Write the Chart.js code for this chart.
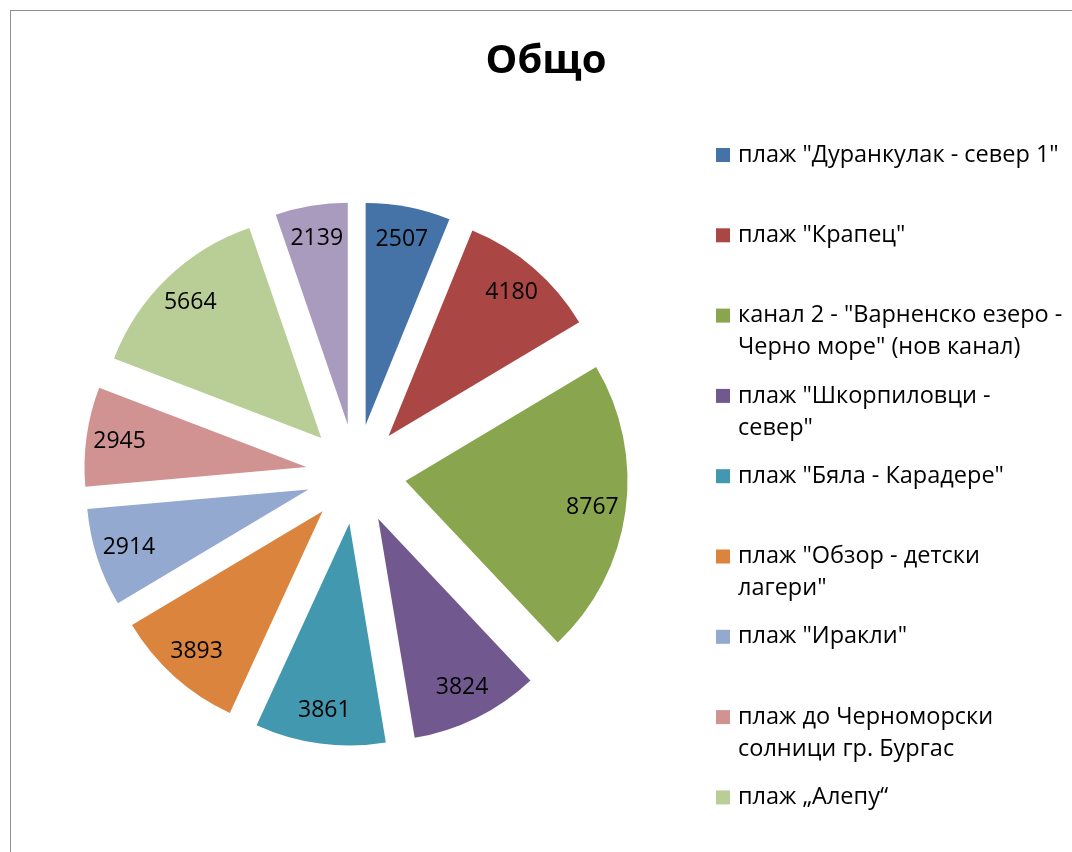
<!DOCTYPE html>
<html>
<head>
<meta charset="utf-8">
<script src="https://cdn.jsdelivr.net/npm/chart.js@4/dist/chart.umd.min.js"></script>
<style>
  html, body { margin: 0; padding: 0; background: #fff; overflow: hidden; }
  #frame {
    position: absolute;
    left: 10px;
    top: 10px;
    width: 1072px;
    height: 852px;
    border: 1px solid #8e8e8e;
  }
  canvas { display: block; }
</style>
</head>
<body>
<div id="frame"><canvas id="myChart" width="1072" height="852"></canvas></div>
<script>
// chart data
const chartTitle = "Общо";
const beaches = [
  'плаж "Дуранкулак - север 1"',
  'плаж "Крапец"',
  'канал 2 - "Варненско езеро - Черно море" (нов канал)',
  'плаж "Шкорпиловци - север"',
  'плаж "Бяла - Карадере"',
  'плаж "Обзор - детски лагери"',
  'плаж "Иракли"',
  'плаж до Черноморски солници гр. Бургас',
  'плаж „Алепу“',
  'други'
];
// legend text, wrapped the same way as in the picture
const legendLines = [
  ['плаж "Дуранкулак - север 1"'],
  ['плаж "Крапец"'],
  ['канал 2 - "Варненско езеро -', 'Черно море" (нов канал)'],
  ['плаж "Шкорпиловци -', 'север"'],
  ['плаж "Бяла - Карадере"'],
  ['плаж "Обзор - детски', 'лагери"'],
  ['плаж "Иракли"'],
  ['плаж до Черноморски', 'солници гр. Бургас'],
  ['плаж „Алепу“'],
  ['други']
];
const counts = [2507, 4180, 8767, 3824, 3861, 3893, 2914, 2945, 5664, 2139];
const sliceColors = [
  "#4572a7", "#aa4643", "#89a54e", "#71588f", "#4198af",
  "#db843d", "#93a9cf", "#d19392", "#b9cd96", "#a99bbd"
];

const EXPLODE = 50; // how far each slice is pulled out
const FONT = "'Open Sans', 'Noto Sans', sans-serif";

// draws every slice moved outward along its middle angle
const explodePlugin = {
  id: "explode",
  beforeDatasetDraw(chart, args) {
    const ctx = chart.ctx;
    args.meta.data.forEach(function (arc) {
      const mid = (arc.startAngle + arc.endAngle) / 2;
      ctx.save();
      ctx.translate(Math.cos(mid) * EXPLODE, Math.sin(mid) * EXPLODE);
      arc.draw(ctx);
      ctx.restore();
    });
    return false;
  }
};

// title, value labels and the wrapped legend
const textPlugin = {
  id: "texts",
  afterDraw(chart) {
    const ctx = chart.ctx;
    const meta = chart.getDatasetMeta(0);

    ctx.save();
    ctx.fillStyle = "#000";
    ctx.textAlign = "center";
    ctx.textBaseline = "middle";

    // title
    ctx.font = "bold 40px " + FONT;
    ctx.fillText(chartTitle, 535, 51);

    // value labels
    ctx.font = "23px " + FONT;
    meta.data.forEach(function (arc, i) {
      const mid = (arc.startAngle + arc.endAngle) / 2;
      const dist = EXPLODE + arc.outerRadius * 0.85;
      ctx.fillText(String(counts[i]), arc.x + Math.cos(mid) * dist, arc.y + Math.sin(mid) * dist);
    });

    // legend
    ctx.textAlign = "left";
    ctx.font = "23.5px " + FONT;
    const boxX = 705;
    const textX = 727;
    let y = 144;
    legendLines.forEach(function (lines, i) {
      ctx.fillStyle = sliceColors[i];
      ctx.fillRect(boxX, y - 7, 14, 14);
      ctx.fillStyle = "#000";
      lines.forEach(function (line, j) {
        ctx.fillText(line, textX, y + j * 32);
      });
      y += 80.3;
    });
    ctx.restore();
  }
};

const ctx = document.getElementById("myChart");

const myChart = new Chart(ctx, {
  type: "pie",
  data: {
    labels: beaches,
    datasets: [
      {
        data: counts,
        backgroundColor: sliceColors,
        borderWidth: 0,
        radius: 222
      }
    ]
  },
  options: {
    responsive: false,
    animation: false,
    events: [],
    layout: {
      padding: { left: 0, right: 382, top: 100, bottom: 26 }
    },
    plugins: {
      legend: { display: false },
      title: { display: false },
      tooltip: { enabled: false }
    }
  },
  plugins: [explodePlugin, textPlugin]
});
</script>
</body>
</html>
